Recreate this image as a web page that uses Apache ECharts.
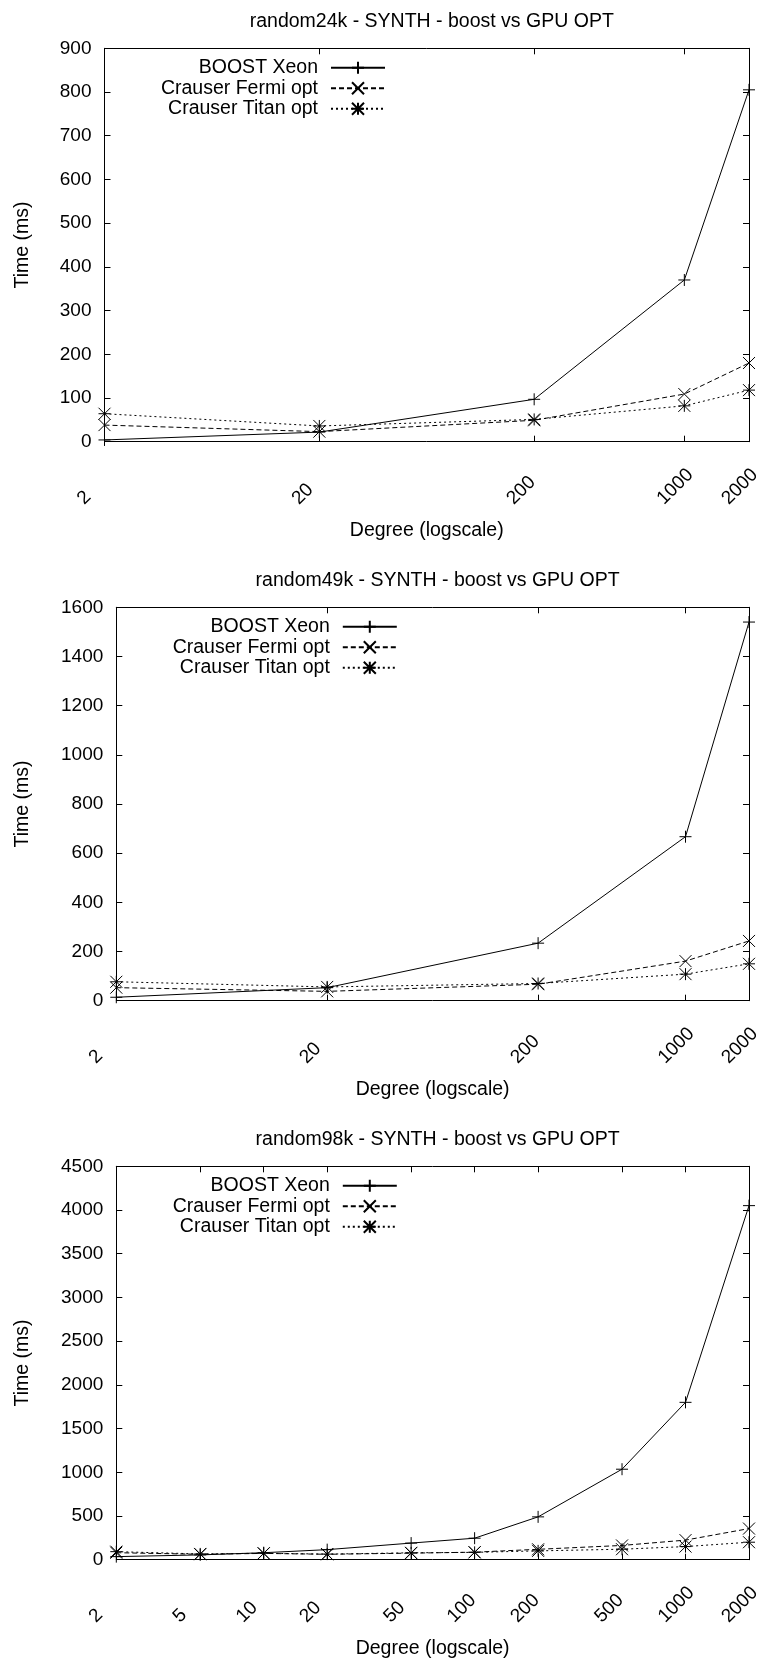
<!DOCTYPE html>
<html>
<head>
<meta charset="utf-8">
<script src="https://cdn.jsdelivr.net/npm/echarts@6/dist/echarts.min.js"></script>
<style>
body { margin: 0; background: #fff; }
.panel { position: absolute; left: 0; width: 758px; }
</style>
</head>
<body>
<div id="c1" class="panel" style="top:0;height:559px"></div>
<div id="c2" class="panel" style="top:559px;height:559px"></div>
<div id="c3" class="panel" style="top:1118px;height:543px"></div>
<script>
var seriesNames = ['BOOST Xeon', 'Crauser Fermi opt', 'Crauser Titan opt'];

// random24k
var degrees24k = [2, 20, 200, 1000, 2000];
var boost24k = [4, 22, 97, 370, 805];
var fermi24k = [38, 23, 49, 109, 180];
var titan24k = [64, 36, 51, 82, 118];

// random49k
var degrees49k = [2, 20, 200, 1000, 2000];
var boost49k = [14, 53, 234, 667, 1540];
var fermi49k = [53, 38, 67, 161, 243];
var titan49k = [77, 56, 70, 108, 150];

// random98k
var degrees98k = [2, 5, 10, 20, 50, 100, 200, 500, 1000, 2000];
var boost98k = [35, 55, 80, 115, 190, 246, 490, 1035, 1800, 4050];
var fermi98k = [80, 62, 72, 62, 75, 86, 119, 163, 224, 356];
var titan98k = [92, 66, 74, 64, 79, 84, 101, 120, 150, 200];

var xTicks24k = [2, 20, 200, 1000, 2000];
var xTicks49k = [2, 20, 200, 1000, 2000];
var xTicks98k = [2, 5, 10, 20, 50, 100, 200, 500, 1000, 2000];

var yMax24k = 900, yStep24k = 100;
var yMax49k = 1600, yStep49k = 200;
var yMax98k = 4500, yStep98k = 500;

var FONT = "'Liberation Sans', Arial, sans-serif";
var plusPath = 'path://M0,6L12,6M6,0L6,12';
var crossPath = 'path://M0,0L12,12M12,0L0,12';
var starPath = 'path://M0,6L12,6M6,0L6,12M0,0L12,12M12,0L0,12';
var lineLook = [
	{ symbol: plusPath, type: 'solid' },
	{ symbol: crossPath, type: [5, 3] },
	{ symbol: starPath, type: [2, 3] }
];
var legendRows = [17, 37.5, 58];

function plainNumber(v) {
	return String(Math.round(v));
}

function makeChart(domId, cfg) {
	var chart = echarts.init(document.getElementById(domId));
	var plotLeft = cfg.left, plotRight = 749, plotTop = 48.3, plotHeight = 393.4;
	var black = { color: '#000', width: 1 };
	var series = [], legends = [];

	cfg.values.forEach(function (vals, i) {
		series.push({
			name: seriesNames[i],
			type: 'line',
			xAxisIndex: 0,
			yAxisIndex: 0,
			data: cfg.degrees.map(function (d, j) { return [d, vals[j]]; }),
			symbol: lineLook[i].symbol,
			symbolSize: 12,
			showAllSymbol: true,
			lineStyle: { color: '#000', width: 1, type: lineLook[i].type },
			itemStyle: { color: '#000', borderColor: '#000', borderWidth: 1 },
			emphasis: { disabled: true },
			z: 3 + i
		});
		legends.push({
			data: [seriesNames[i]],
			orient: 'horizontal',
			align: 'right',
			right: 758 - (plotLeft + 281.5),
			top: plotTop + legendRows[i] - 7.5,
			padding: 0,
			itemWidth: 54,
			itemHeight: 15,
			selectedMode: false,
			textStyle: { fontSize: 19.5, fontFamily: FONT, color: '#000', lineHeight: 15, padding: [0, 8, 0, 0] }
		});
	});

	var tickStyle = { inside: true, length: 6, lineStyle: black };
	var xCommon = {
		type: 'log', min: 2, max: 2000, logBase: 10,
		splitLine: { show: false }, minorTick: { show: false },
		axisLine: { onZero: false, lineStyle: black }
	};

	var option = {
		animation: false,
		title: {
			text: cfg.title,
			left: (plotLeft + plotRight) / 2,
			textAlign: 'center',
			top: 7,
			textStyle: { fontSize: 19.5, fontWeight: 'normal', color: '#000', fontFamily: FONT }
		},
		legend: legends,
		grid: {
			left: plotLeft, top: plotTop, width: plotRight - plotLeft, height: plotHeight,
			containLabel: false, outerBoundsMode: 'none', show: false
		},
		xAxis: [
			echarts.util.merge({
				position: 'bottom',
				axisTick: echarts.util.merge({ customValues: cfg.xTicks }, tickStyle, true),
				axisLabel: {
					customValues: cfg.xTicks, rotate: 45, align: 'left', verticalAlign: 'bottom',
					lineHeight: 68, margin: 84, fontSize: 19, color: '#000', fontFamily: FONT,
					showMinLabel: true, showMaxLabel: true, hideOverlap: false,
					formatter: plainNumber
				},
				name: 'Degree (logscale)', nameLocation: 'middle', nameGap: 79, nameMoveOverlap: false,
				nameTextStyle: { fontSize: 19.5, color: '#000', fontFamily: FONT }
			}, xCommon, true),
			echarts.util.merge({
				position: 'top',
				axisTick: echarts.util.merge({ customValues: cfg.xTicks }, tickStyle, true),
				axisLabel: { show: false }
			}, xCommon, true)
		],
		yAxis: [
			{
				type: 'value', min: 0, max: cfg.yMax, interval: cfg.yStep, position: 'left',
				splitLine: { show: false },
				axisLine: { show: true, lineStyle: black },
				axisTick: tickStyle,
				axisLabel: { margin: 13, fontSize: 19, color: '#000', fontFamily: FONT, formatter: plainNumber },
				name: 'Time (ms)', nameLocation: 'middle', nameGap: cfg.nameGapY, nameMoveOverlap: false,
				nameTextStyle: { fontSize: 19.5, color: '#000', fontFamily: FONT }
			},
			{
				type: 'value', min: 0, max: cfg.yMax, interval: cfg.yStep, position: 'right',
				splitLine: { show: false },
				axisLine: { show: true, lineStyle: black },
				axisTick: tickStyle,
				axisLabel: { show: false }
			}
		],
		series: series
	};
	chart.setOption(option, true);
}

makeChart('c1', {
	title: 'random24k - SYNTH - boost vs GPU OPT',
	left: 104.5, nameGapY: 72,
	degrees: degrees24k, values: [boost24k, fermi24k, titan24k],
	xTicks: xTicks24k, yMax: yMax24k, yStep: yStep24k
});
makeChart('c2', {
	title: 'random49k - SYNTH - boost vs GPU OPT',
	left: 116.3, nameGapY: 84,
	degrees: degrees49k, values: [boost49k, fermi49k, titan49k],
	xTicks: xTicks49k, yMax: yMax49k, yStep: yStep49k
});
makeChart('c3', {
	title: 'random98k - SYNTH - boost vs GPU OPT',
	left: 116.3, nameGapY: 84,
	degrees: degrees98k, values: [boost98k, fermi98k, titan98k],
	xTicks: xTicks98k, yMax: yMax98k, yStep: yStep98k
});
</script>
</body>
</html>
